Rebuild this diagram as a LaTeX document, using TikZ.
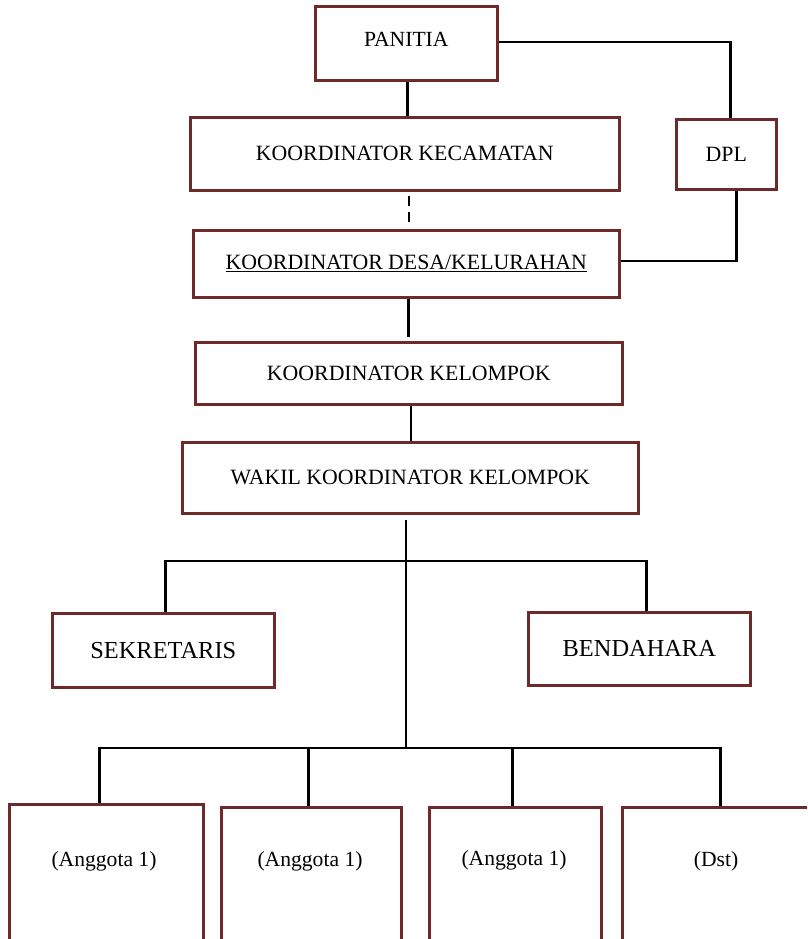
\documentclass[tikz,border=0pt]{standalone}
\usepackage{fontspec}
\setmainfont{Liberation Serif}
\begin{document}
\begin{tikzpicture}[x=1pt,y=-1pt,
  box/.style={draw=boxred, line width=2.6pt, rectangle, inner sep=0pt, anchor=north west, font=\fontsize{21.8}{26}\selectfont},
  bigbox/.style={box, font=\fontsize{24.4}{28}\selectfont},
  conn/.style={draw=black, line width=2.4pt},
  lbl/.style={font=\fontsize{21.6}{26}\selectfont, inner sep=0pt}]
\definecolor{boxred}{RGB}{110,42,42}
\useasboundingbox (0,0) rectangle (807,939);
\clip (0,0) rectangle (807,939);
% boxes
\node[box, minimum width=182, minimum height=74] (pan) at (314,5) {};
\node[lbl] at ([yshift=4]pan.center) {PANITIA};
\node[box, minimum width=429, minimum height=73] (kec) at (189,116) {KOORDINATOR KECAMATAN};
\node[box, minimum width=100, minimum height=70] (dpl) at (675,118) {DPL};
\node[box, minimum width=426, minimum height=67] (desa) at (192,229) {\underline{KOORDINATOR DESA/KELURAHAN}};
\node[box, minimum width=427, minimum height=62] (kel) at (194,341) {KOORDINATOR KELOMPOK};
\node[box, minimum width=456, minimum height=71] (wak) at (181,441) {WAKIL KOORDINATOR KELOMPOK};
\node[bigbox, minimum width=222, minimum height=74] (sek) at (51,612) {SEKRETARIS};
\node[bigbox, minimum width=222, minimum height=73] (ben) at (527,611) {BENDAHARA};
\node[box, minimum width=194, minimum height=160] (m1) at (8,803) {};
\node[box, minimum width=180, minimum height=160] (m2) at (220,806) {};
\node[box, minimum width=172, minimum height=160] (m3) at (428,806) {};
\node[box, minimum width=200, minimum height=160] (m4) at (621,806) {};
\node[lbl] at (104,861) {(Anggota 1)};
\node[lbl] at (310,861) {(Anggota 1)};
\node[lbl] at (514,860) {(Anggota 1)};
\node[lbl] at (716,861) {(Dst)};
% branch points
\coordinate (b1) at (406,561);
\coordinate (b2) at (406,748);
% connectors
\draw[conn] ([xshift=1]pan.south) -- ([xshift=1]pan.south |- kec.north);
\draw[conn] ([yshift=1]pan.east) -| ([xshift=4]dpl.north);
\draw[conn] ([xshift=10]dpl.south) |- ([yshift=3]desa.east);
\draw[conn, dash pattern=on 10pt off 6pt, shorten <=4pt, shorten >=4pt] ([xshift=4]kec.south) -- ([xshift=4]kec.south |- desa.north);
\draw[conn, shorten <=4pt] (kel.north -| desa.south) ++(2,0) -- ([xshift=2]desa.south);
\draw[conn] ([xshift=2]kel.south) -- ([xshift=2]kel.south |- wak.north);
\draw[conn, shorten <=5pt] (wak.south -| b1) -- (b2);
\draw[conn] ([xshift=2]sek.north) |- (b1) -| ([xshift=7]ben.north);
\draw[conn] ([xshift=-7]m1.north) |- (b2) -| ([xshift=-2]m4.north);
\draw[conn] ([xshift=-3]m2.north) -- ([xshift=-3]m2.north |- b2);
\draw[conn] ([xshift=-3]m3.north) -- ([xshift=-3]m3.north |- b2);
\end{tikzpicture}
\end{document}
